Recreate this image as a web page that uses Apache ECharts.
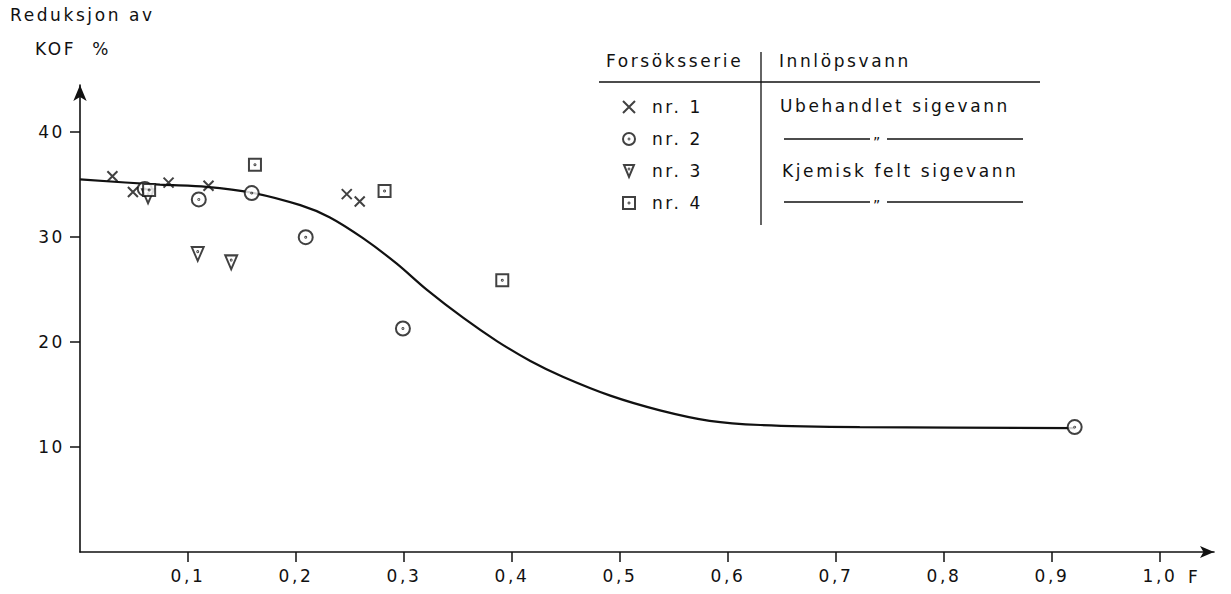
<!DOCTYPE html>
<html>
<head>
<meta charset="utf-8">
<script src="https://cdn.jsdelivr.net/npm/echarts@6/dist/echarts.min.js"></script>
<style>
  html, body { margin: 0; padding: 0; background: #fff; }
  #chart { width: 1231px; height: 594px; }
  /* stencil lettering is wide-spaced */
  #chart text { letter-spacing: 2.6px; }
</style>
</head>
<body>
<div id="chart"></div>
<script>
// x = F, y = reduksjon av KOF %
var nr1X = [0.030, 0.049, 0.082, 0.119, 0.247, 0.259];
var nr1Y = [35.8, 34.3, 35.2, 34.9, 34.1, 33.4];
var nr2X = [0.060, 0.110, 0.159, 0.209, 0.299, 0.921];
var nr2Y = [34.6, 33.6, 34.2, 30.0, 21.3, 11.9];
var nr3X = [0.063, 0.109, 0.140];
var nr3Y = [33.9, 28.4, 27.6];
var nr4X = [0.064, 0.162, 0.282, 0.391];
var nr4Y = [34.5, 36.9, 34.4, 25.9];

// hand drawn trend curve
var curveX = [0, 0.074, 0.117, 0.159, 0.204, 0.231, 0.262, 0.293, 0.321, 0.355, 0.386, 0.417, 0.447, 0.491, 0.537, 0.583, 0.630, 0.722, 0.921];
var curveY = [35.5, 35.0, 34.8, 34.25, 33.05, 31.9, 29.9, 27.5, 25.0, 22.3, 20.1, 18.2, 16.7, 14.9, 13.5, 12.5, 12.1, 11.9, 11.8];

var xTicks = [0.1, 0.2, 0.3, 0.4, 0.5, 0.6, 0.7, 0.8, 0.9, 1.0];
var yTicks = [10, 20, 30, 40];

var FONT = 'DejaVu Sans';
var INK = '#111';
var TXT = '17px "DejaVu Sans"';

var symCross = 'path://M0,0L10,10M10,0L0,10';
var symCircle = 'path://M0,6a6,6 0 1,0 12,0a6,6 0 1,0 -12,0ZM6,5.6a0.4,0.4 0 1,0 0.01,0Z';
var symTri = 'path://M0,0L10,0L5,12ZM5,3.6a0.4,0.4 0 1,0 0.01,0Z';
var symSquare = 'path://M0,0L10,0L10,10L0,10ZM5,4.6a0.4,0.4 0 1,0 0.01,0Z';

function pairs(xs, ys) {
  return xs.map(function (x, i) { return [x, ys[i]]; });
}

function markers(name, xs, ys, symbol, size) {
  return {
    name: name,
    type: 'scatter',
    data: pairs(xs, ys),
    symbol: symbol,
    symbolSize: size,
    itemStyle: { color: '#fff', borderColor: INK, borderWidth: 2 },
    z: 3
  };
}

var chart = echarts.init(document.getElementById('chart'), null, { renderer: 'svg' });

chart.setOption({
  animation: false,
  backgroundColor: '#fff',
  textStyle: { fontFamily: FONT, color: INK },
  title: [
    { text: 'Reduksjon av', left: 10, top: 6, padding: 0, textStyle: { fontFamily: FONT, fontSize: 17, fontWeight: 'normal', color: INK } },
    { text: 'KOF  %', left: 35, top: 40, padding: 0, textStyle: { fontFamily: FONT, fontSize: 17, fontWeight: 'normal', color: INK } }
  ],
  grid: { left: 80, right: 17, top: 85, bottom: 42 },
  legend: {
    orient: 'vertical',
    left: 622,
    top: 98,
    padding: 0,
    itemWidth: 12,
    itemHeight: 12,
    itemGap: 14,
    data: ['nr. 1', 'nr. 2', 'nr. 3', 'nr. 4'],
    textStyle: { fontFamily: FONT, fontSize: 17, color: INK, lineHeight: 18, padding: [0, 0, 0, 12] }
  },
  xAxis: {
    type: 'value',
    min: 0,
    max: 1.05,
    name: 'F',
    nameLocation: 'end',
    nameGap: -26,
    nameTextStyle: { fontFamily: FONT, fontSize: 17, color: INK, verticalAlign: 'top', padding: [16, 0, 0, 0] },
    splitLine: { show: false },
    axisLine: { lineStyle: { color: INK, width: 1.6 }, symbol: ['none', 'arrow'], symbolSize: [9, 14] },
    axisTick: { customValues: xTicks, length: 10, lineStyle: { color: INK, width: 1.5 } },
    axisLabel: {
      customValues: xTicks,
      margin: 15,
      fontFamily: FONT,
      fontSize: 17,
      color: INK,
      formatter: function (v) { return v.toFixed(1).replace('.', ','); }
    }
  },
  yAxis: {
    type: 'value',
    min: 0,
    max: 44.5,
    splitLine: { show: false },
    axisLine: { lineStyle: { color: INK, width: 1.6 }, symbol: ['none', 'arrow'], symbolSize: [10, 16] },
    axisTick: { customValues: yTicks, length: 10, lineStyle: { color: INK, width: 1.5 } },
    axisLabel: { customValues: yTicks, margin: 15, fontFamily: FONT, fontSize: 17, color: INK }
  },
  graphic: [
    { type: 'text', left: 606, top: 52, style: { text: 'Forsöksserie', font: TXT, fill: INK } },
    { type: 'text', left: 779, top: 52, style: { text: 'Innlöpsvann', font: TXT, fill: INK } },
    { type: 'line', shape: { x1: 599, y1: 82, x2: 1040, y2: 82 }, style: { stroke: INK, lineWidth: 1.3 } },
    { type: 'line', shape: { x1: 761, y1: 52, x2: 761, y2: 225 }, style: { stroke: INK, lineWidth: 1.3 } },
    { type: 'text', left: 780, top: 97, style: { text: 'Ubehandlet sigevann', font: TXT, fill: INK } },
    { type: 'line', shape: { x1: 784, y1: 139, x2: 870, y2: 139 }, style: { stroke: INK, lineWidth: 1.3 } },
    { type: 'text', left: 873, top: 135, style: { text: '\u201D', font: '14px "DejaVu Sans"', fill: INK } },
    { type: 'line', shape: { x1: 887, y1: 139, x2: 1023, y2: 139 }, style: { stroke: INK, lineWidth: 1.3 } },
    { type: 'text', left: 782, top: 162, style: { text: 'Kjemisk felt sigevann', font: TXT, fill: INK } },
    { type: 'line', shape: { x1: 784, y1: 202, x2: 870, y2: 202 }, style: { stroke: INK, lineWidth: 1.3 } },
    { type: 'text', left: 873, top: 198, style: { text: '\u201D', font: '14px "DejaVu Sans"', fill: INK } },
    { type: 'line', shape: { x1: 887, y1: 202, x2: 1023, y2: 202 }, style: { stroke: INK, lineWidth: 1.3 } }
  ],
  series: [
    {
      name: 'kurve',
      type: 'line',
      data: pairs(curveX, curveY),
      smooth: 0.3,
      showSymbol: false,
      silent: true,
      lineStyle: { color: INK, width: 2.2 },
      z: 2
    },
    markers('nr. 1', nr1X, nr1Y, symCross, 10),
    markers('nr. 2', nr2X, nr2Y, symCircle, 14),
    markers('nr. 3', nr3X, nr3Y, symTri, [12, 14]),
    markers('nr. 4', nr4X, nr4Y, symSquare, 12)
  ]
});
</script>
</body>
</html>
